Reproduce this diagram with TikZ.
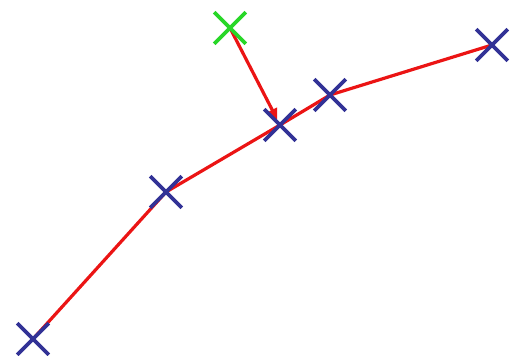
\documentclass[tikz,border=0pt]{standalone}
\usetikzlibrary{shapes.misc,arrows.meta}
\definecolor{mblue}{RGB}{50,50,150}
\definecolor{mgreen}{RGB}{40,215,40}
\definecolor{mred}{RGB}{235,20,20}
\pgfdeclarelayer{bg}
\pgfsetlayers{bg,main}
\tikzset{
  pt/.style={cross out, draw=mblue, line width=3.6pt, minimum size=28pt, inner sep=0pt},
  gpt/.style={pt, draw=mgreen},
  redline/.style={draw=mred, line width=3.2pt},
}
\begin{document}
\begin{tikzpicture}[x=1pt,y=1pt]
\useasboundingbox (0,0) rectangle (522,356);
\node[pt] (p1) at (33,17) {};
\node[pt] (p2) at (166,164) {};
\node[pt] (p3) at (280,231) {};
\node[pt] (p4) at (330,261) {};
\node[pt] (p5) at (492,311) {};
\node[gpt] (g) at (230,328) {};
\begin{pgfonlayer}{bg}
\draw[redline] (p1.center) -- (p2.center) -- (p3.center) -- (p4.center) -- (p5.center);
\draw[redline, -{Triangle[length=11pt,width=10pt]}, shorten >=6pt] (g.center) -- (p3.center);
\end{pgfonlayer}
\end{tikzpicture}
\end{document}
